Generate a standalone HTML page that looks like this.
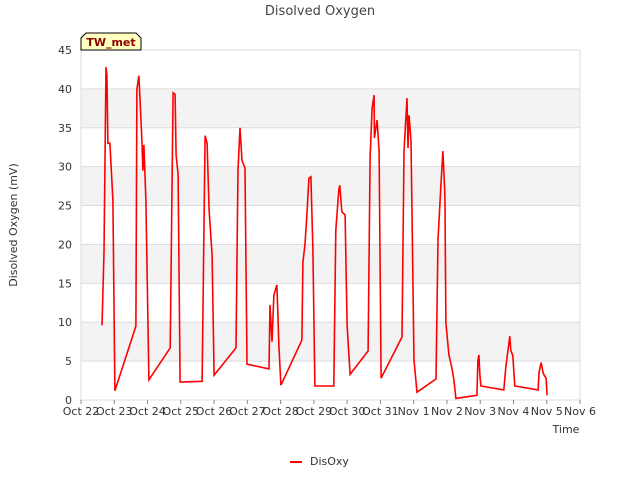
<!DOCTYPE html>
<html><head><meta charset="utf-8"><style>
body{margin:0;background:#fff;font-family:"Liberation Sans","DejaVu Sans",sans-serif;}
svg text{font-family:"DejaVu Sans","Liberation Sans",sans-serif;}
</style></head><body>
<svg id="chart" width="640" height="480">
<rect x="0" y="0" width="640" height="480" fill="#fff"/>
<text x="320" y="15" text-anchor="middle" font-size="13" fill="#444">Disolved Oxygen</text>
<g id="grid"></g>
<g id="xticks"></g>
<g id="yticks"></g>
<text x="566" y="433" text-anchor="middle" font-size="11" fill="#333">Time</text>
<text transform="translate(17,225) rotate(-90)" text-anchor="middle" font-size="11" fill="#333">Disolved Oxygen (mV)</text>
<path id="line" fill="none" stroke="#ff0000" stroke-width="1.6"/>
<g>
<path d="M81,50 L81,38 L86,33 L136,33 L141,38 L141,50 Z" fill="#ffffc0" stroke="#000" stroke-width="1"/>
<text x="111" y="46" text-anchor="middle" font-size="11" font-weight="bold" fill="#8b0000">TW_met</text>
</g>
<g>
<line x1="290" y1="462" x2="302" y2="462" stroke="#ff0000" stroke-width="2"/>
<text x="310" y="465" font-size="11" fill="#333">DisOxy</text>
</g>
</svg>
<script>
const xLabels=["Oct 22","Oct 23","Oct 24","Oct 25","Oct 26","Oct 27","Oct 28","Oct 29","Oct 30","Oct 31","Nov 1","Nov 2","Nov 3","Nov 4","Nov 5","Nov 6"];
const yTicks=[0,5,10,15,20,25,30,35,40,45];
const days=[0.63,0.69,0.75,0.78,0.81,0.87,0.96,1.02,
1.65,1.68,1.74,1.83,1.86,1.89,1.95,2.04,
2.68,2.77,2.83,2.86,2.92,2.98,
3.64,3.73,3.79,3.85,3.94,4.00,
4.66,4.72,4.78,4.84,4.93,4.99,
5.65,5.68,5.74,5.80,5.89,5.95,6.01,
6.64,6.67,6.73,6.79,6.85,6.91,6.97,7.03,
7.60,7.66,7.75,7.78,7.84,7.94,8.00,8.09,
8.63,8.69,8.75,8.81,8.82,8.90,8.96,9.02,
9.65,9.71,9.80,9.83,9.86,9.92,10.01,10.10,
10.67,10.73,10.82,10.88,10.94,10.97,11.06,11.15,11.21,11.27,
11.90,11.93,11.96,11.99,12.02,
12.71,12.77,12.83,12.89,12.92,12.98,13.04,
13.74,13.77,13.83,13.89,13.92,13.98,14.01];
const values=[9.6,19,42.8,41.8,33,33,25.7,1.2,
9.5,40,41.7,33.4,29.5,32.8,25.7,2.6,
6.7,39.5,39.3,31.5,29,2.3,
2.4,34,33,24.4,18.6,3.2,
6.7,29.6,35,30.8,29.8,4.6,
4,12.2,7.5,13.5,14.8,7,1.9,
7.7,17.7,19.9,23.8,28.5,28.7,19.3,1.8,
1.8,21.8,27,27.6,24.2,23.8,9.6,3.3,
6.3,31.2,37.5,39.2,33.7,36,32,2.8,
8.1,32,38.8,32.4,36.6,33.4,5.1,1,
2.7,20.6,27.6,32,26.4,9.9,5.8,4.1,2.6,0.2,
0.6,5.1,5.8,3.2,1.8,
1.3,4.2,6.2,8.2,6.4,5.7,1.8,
1.3,3.6,4.8,3.5,3.2,2.8,0.6];
const X0=81,X1=580,Y0=400,Y1=50;
const xs=d=>X0+d*(X1-X0)/15;
const ys=v=>Y0-v*(Y0-Y1)/45;
const NS="http://www.w3.org/2000/svg";
const grid=document.getElementById('grid');
for(let i=0;i<yTicks.length-1;i++){
 if(i%2===1){const r=document.createElementNS(NS,'rect');
 r.setAttribute('x',X0);r.setAttribute('y',ys(yTicks[i+1]));r.setAttribute('width',X1-X0);r.setAttribute('height',ys(yTicks[i])-ys(yTicks[i+1]));r.setAttribute('fill','#f3f3f3');
 
 
 grid.appendChild(r);}
}
const yg=document.getElementById('yticks');
yTicks.forEach(v=>{
 const l=document.createElementNS(NS,'line');
 l.setAttribute('x1',X0);l.setAttribute('x2',X1);l.setAttribute('y1',ys(v));l.setAttribute('y2',ys(v));l.setAttribute('stroke','#ddd');
 
 
 grid.appendChild(l);
 const t=document.createElementNS(NS,'text');
 t.setAttribute('x',X0-9);t.setAttribute('y',ys(v)+4);t.setAttribute('text-anchor','end');t.setAttribute('font-size','11');t.setAttribute('fill','#333');
 t.textContent=v;
 
 
 yg.appendChild(t);
});
const fr=document.createElementNS(NS,'rect');
fr.setAttribute('x',X0);fr.setAttribute('y',Y1);fr.setAttribute('width',X1-X0);fr.setAttribute('height',Y0-Y1);fr.setAttribute('fill','none');fr.setAttribute('stroke','#ddd');


grid.appendChild(fr);
const xg=document.getElementById('xticks');
xLabels.forEach((s,i)=>{
 const l=document.createElementNS(NS,'line');
 l.setAttribute('x1',xs(i));l.setAttribute('x2',xs(i));l.setAttribute('y1',Y0);l.setAttribute('y2',Y0+4);l.setAttribute('stroke','#888');
 
 
 xg.appendChild(l);
 const t=document.createElementNS(NS,'text');
 t.setAttribute('x',xs(i));t.setAttribute('y',Y0+15);t.setAttribute('text-anchor','middle');t.setAttribute('font-size','11');t.setAttribute('fill','#333');
 t.textContent=s;
 
 
 xg.appendChild(t);
});
document.getElementById('line').setAttribute('d',days.map((d,i)=>(i?'L':'M')+xs(d).toFixed(1)+','+ys(values[i]).toFixed(1)).join(' '));
</script>
</body></html>
